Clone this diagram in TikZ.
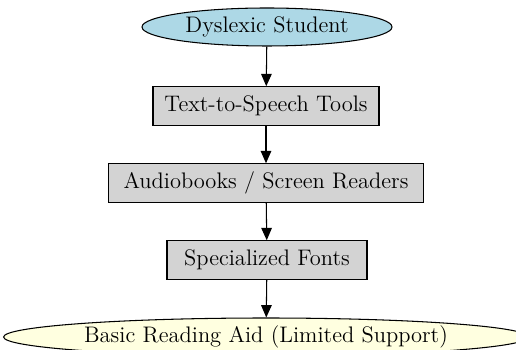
\documentclass[tikz,border=0pt]{standalone}
\usepackage{tikz}
\usetikzlibrary{shapes.geometric, arrows.meta}

\definecolor{lightblue}{HTML}{ADD8E6}
\definecolor{lightgray}{HTML}{D3D3D3}
\definecolor{lightyellow}{HTML}{FFFFE0}

\begin{document}
\begin{tikzpicture}[x=0.02cm, y=-0.02cm,
    every node/.style={font=\fontsize{12.8}{15}\selectfont, inner sep=0pt},
    startnode/.style={ellipse, draw, fill=lightblue, minimum width=5cm, minimum height=0.76cm},
    toolbox/.style={rectangle, draw, fill=lightgray, minimum height=0.77cm},
    endnode/.style={ellipse, draw, fill=lightyellow, minimum width=10.5cm, minimum height=0.76cm},
    flow/.style={-{Triangle[length=7pt, width=6pt]}, semithick}]
  \useasboundingbox (0,0) rectangle (516,350);
  \clip (0,0) rectangle (516,350);
  \node[startnode, semithick] (student) at (267,27) {Dyslexic Student};
  \node[toolbox, semithick, minimum width=4.52cm] (tts) at (266,106) {Text-to-Speech Tools};
  \node[toolbox, semithick, minimum width=6.3cm] (audio) at (266,183) {Audiobooks / Screen Readers};
  \node[toolbox, semithick, minimum width=4cm] (fonts) at (267,260) {Specialized Fonts};
  \node[endnode, semithick] (aid) at (266,337) {Basic Reading Aid (Limited Support)};
  \draw[flow] (student) -- (tts);
  \draw[flow] (tts) -- (audio);
  \draw[flow] (audio) -- (fonts);
  \draw[flow] (fonts) -- (aid);
\end{tikzpicture}
\end{document}
